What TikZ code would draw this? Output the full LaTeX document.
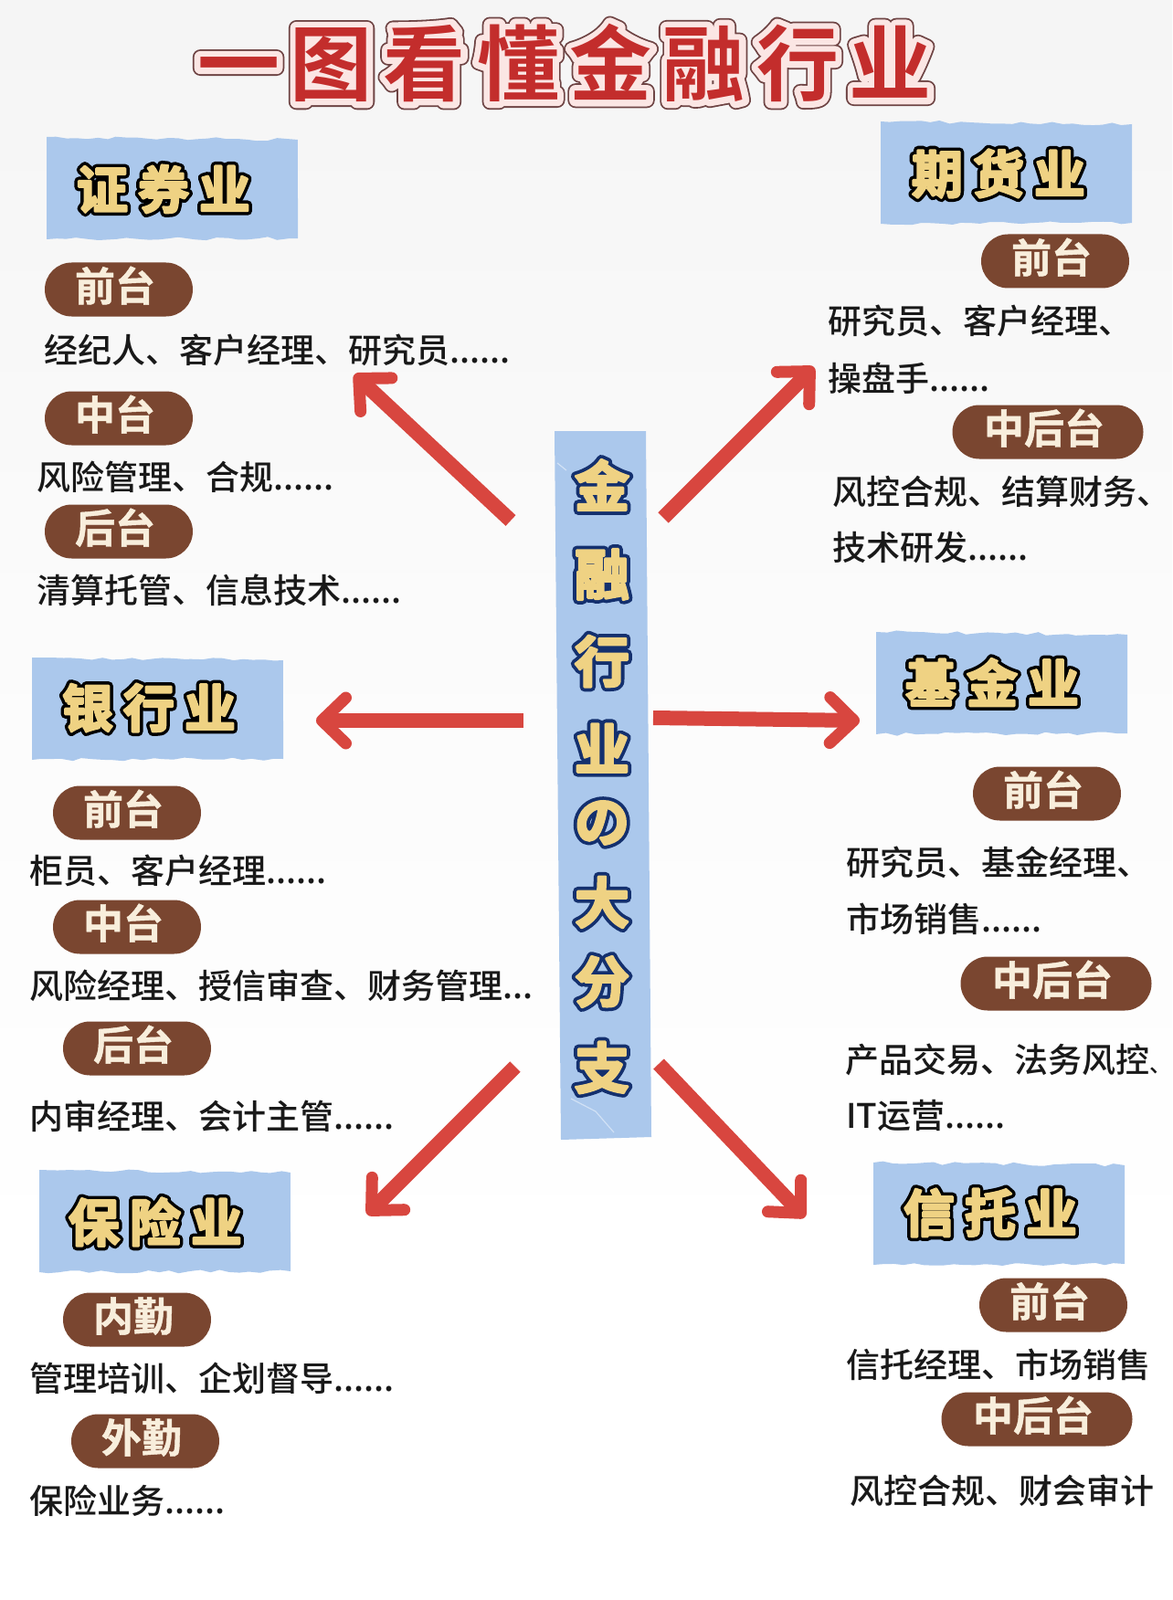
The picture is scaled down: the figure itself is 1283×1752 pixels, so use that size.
\documentclass[tikz,border=0pt]{standalone}
\usepackage{fontspec}
\usetikzlibrary{arrows.meta,shapes.misc,decorations.pathmorphing}
\setmainfont{Noto Sans CJK SC}
\newfontfamily\bodyfont{Noto Sans CJK SC Medium}
\newfontfamily\pillfont[FakeBold=1]{Noto Sans CJK SC Bold}
\newfontfamily\titleA[FakeBold=19]{Noto Sans CJK SC Bold}
\newfontfamily\titleB[FakeBold=15]{Noto Sans CJK SC Bold}
\newfontfamily\titleC{Noto Sans CJK SC Bold}
\newfontfamily\bannerA[FakeBold=17]{Noto Sans CJK SC Bold}
\newfontfamily\bannerB[FakeBold=4.5]{Noto Sans CJK SC Bold}
\definecolor{bluebg}{HTML}{ABC8EC}
\definecolor{gold}{HTML}{EFD283}
\definecolor{navy}{HTML}{14306E}
\definecolor{brownpill}{HTML}{7A4630}
\definecolor{cream}{HTML}{F8EEDC}
\definecolor{arrowred}{HTML}{D8463F}
\definecolor{titlered}{HTML}{C32D2C}
\definecolor{titledark}{HTML}{6E4444}
\definecolor{titlehalo}{HTML}{FBE6E4}
\newcommand\roundjoin{\special{pdf:code 1 j 1 J}}
\newcommand\titletext[1]{\roundjoin\rlap{\titleA\color{titledark}#1}\rlap{\titleB\color{titlehalo}#1}{\titleC\color{titlered}#1}}
\newcommand\bantext[1]{\roundjoin\rlap{\bannerA\color{black}#1}{\bannerB\color{gold}#1}}
\newcommand\striptext[1]{\roundjoin\rlap{\bannerA\color{navy}#1}{\bannerB\color{gold}#1}}
\newcommand\tornbanner[2]{\fill[bluebg,decoration={random steps,segment length=11pt,amplitude=1.8pt}]
  ({#1-137},{#2-57}) decorate {-- ({#1+138},{#2-54})} -- ({#1+138},{#2+54}) decorate {-- ({#1-137},{#2+55})} -- cycle;}
\tikzset{
  bantitle/.style={inner sep=0pt,font=\fontsize{56pt}{56pt}\selectfont},
  pill/.style={rounded rectangle,fill=brownpill,text=cream,inner sep=0pt,minimum height=59pt,minimum width=162pt,
    text height=32pt,text depth=6.6pt,execute at end node={\kern8pt},
    font=\pillfont\fontsize{44pt}{44pt}\selectfont},
  widepill/.style={pill,minimum width=209pt},
  bodytext/.style={anchor=west,inner sep=0pt,text=black!90,font=\bodyfont\fontsize{37pt}{37pt}\selectfont},
  stripchar/.style={inner sep=0pt,font=\fontsize{60pt}{60pt}\selectfont},
  redarrow/.style={draw=arrowred,line width=16pt,-{Straight Barb[length=26pt,width=50pt,line width=13pt,round]}},
}
\begin{document}
\begin{tikzpicture}[x=1pt,y=-1pt]
\useasboundingbox (0,0) rectangle (1283,1752);
\shade[top color=black!4,bottom color=white,middle color=black!1.5] (0,0) rectangle (1283,1400);
\fill[white] (0,1400) rectangle (1283,1752);
% title
\node[inner sep=0pt,font=\fontsize{90pt}{90pt}\selectfont] (title) at (618,69)
  {\titletext{一\hspace{12pt}图\hspace{12pt}看\hspace{12pt}懂\hspace{12pt}金\hspace{12pt}融\hspace{12pt}行\hspace{12pt}业}};
% central strip
\fill[bluebg] (607,472) -- (707,472) -- (713,1245) -- (614,1248) -- cycle;
\draw[white!45!bluebg,line width=1.2pt] (625,1203) -- (652,1217) -- (672,1240);
\draw[white!45!bluebg,line width=1.2pt] (610,507) -- (620,515);
\node[stripchar] (c1) at (659,531) {\striptext{金}};
\node[stripchar] (c2) at (659,629) {\striptext{融}};
\node[stripchar] (c3) at (659,724) {\striptext{行}};
\node[stripchar] (c4) at (659,819) {\striptext{业}};
\node[stripchar] (c5) at (659,901) {\striptext{の}};
\node[stripchar] (c6) at (659,988) {\striptext{大}};
\node[stripchar] (c7) at (659,1075) {\striptext{分}};
\node[stripchar] (c8) at (659,1169) {\striptext{支}};
% banners
\tornbanner{188}{207}
\node[bantitle] (b1t) at (179,207) {\bantext{证\hspace{11pt}券\hspace{11pt}业}};
\tornbanner{172}{777}
\node[bantitle] (b2t) at (163,775) {\bantext{银\hspace{11pt}行\hspace{11pt}业}};
\tornbanner{180}{1338}
\node[bantitle] (b3t) at (170,1338) {\bantext{保\hspace{11pt}险\hspace{11pt}业}};
\tornbanner{1101}{190}
\node[bantitle] (b4t) at (1093,190) {\bantext{期\hspace{11pt}货\hspace{11pt}业}};
\tornbanner{1096}{749}
\node[bantitle] (b5t) at (1086,747) {\bantext{基\hspace{11pt}金\hspace{11pt}业}};
\tornbanner{1093}{1330}
\node[bantitle] (b6t) at (1084,1328) {\bantext{信\hspace{11pt}托\hspace{11pt}业}};
% arrows
\coordinate (a1s) at (559,570); \coordinate (a1e) at (388,410);
\coordinate (a2s) at (726,567); \coordinate (a2e) at (891,402);
\coordinate (a3s) at (573,789); \coordinate (a3e) at (346,789);
\coordinate (a4s) at (715,786); \coordinate (a4e) at (941,789);
\coordinate (a5s) at (564,1168); \coordinate (a5e) at (402,1330);
\coordinate (a6s) at (721,1165); \coordinate (a6e) at (881,1333);
\draw[redarrow] (a1s) -- (a1e);
\draw[redarrow] (a2s) -- (a2e);
\draw[redarrow] (a3s) -- (a3e);
\draw[redarrow] (a4s) -- (a4e);
\draw[redarrow] (a5s) -- (a5e);
\draw[redarrow] (a6s) -- (a6e);
% left column
\node[pill] (p1) at (130,317) {前台};
\node[bodytext] (t1) at (48,383) {经纪人、客户经理、研究员......};
\node[pill] (p2) at (130,458) {中台};
\node[bodytext] (t2) at (40,522) {风险管理、合规......};
\node[pill] (p3) at (130,582) {后台};
\node[bodytext] (t3) at (40,646) {清算托管、信息技术......};
\node[pill] (p4) at (139,890) {前台};
\node[bodytext] (t4) at (32,953) {柜员、客户经理......};
\node[pill] (p5) at (139,1015) {中台};
\node[bodytext] (t5) at (32,1079) {风险经理、授信审查、财务管理...};
\node[pill] (p6) at (150,1148) {后台};
\node[bodytext] (t6) at (32,1222) {内审经理、会计主管......};
\node[pill] (p7) at (150,1445) {内勤};
\node[bodytext] (t7) at (32,1509) {管理培训、企划督导......};
\node[pill] (p8) at (159,1578) {外勤};
\node[bodytext] (t8) at (32,1643) {保险业务......};
% right column
\node[pill] (q1) at (1155,286) {前台};
\node[bodytext] (u1) at (906,351) {研究员、客户经理、};
\node[bodytext] (u2) at (906,414) {操盘手......};
\node[widepill] (q2) at (1147,473) {中后台};
\node[bodytext] (u3) at (911,538) {风控合规、结算财务、};
\node[bodytext] (u4) at (911,599) {技术研发......};
\node[pill] (q3) at (1146,869) {前台};
\node[bodytext] (u5) at (926,944) {研究员、基金经理、};
\node[bodytext] (u6) at (926,1006) {市场销售......};
\node[widepill] (q4) at (1156,1077) {中后台};
\node[bodytext] (u7) at (925,1160) {产品交易、法务风控{\fontsize{24pt}{24pt}\selectfont 、}};
\node[bodytext] (u8) at (926,1222) {IT运营......};
\node[pill] (q5) at (1153,1429) {前台};
\node[bodytext] (u9) at (926,1494) {信托经理、市场销售};
\node[widepill] (q6) at (1135,1554) {中后台};
\node[bodytext] (u10) at (930,1632) {风控合规、财会审计};
\end{tikzpicture}
\end{document}
